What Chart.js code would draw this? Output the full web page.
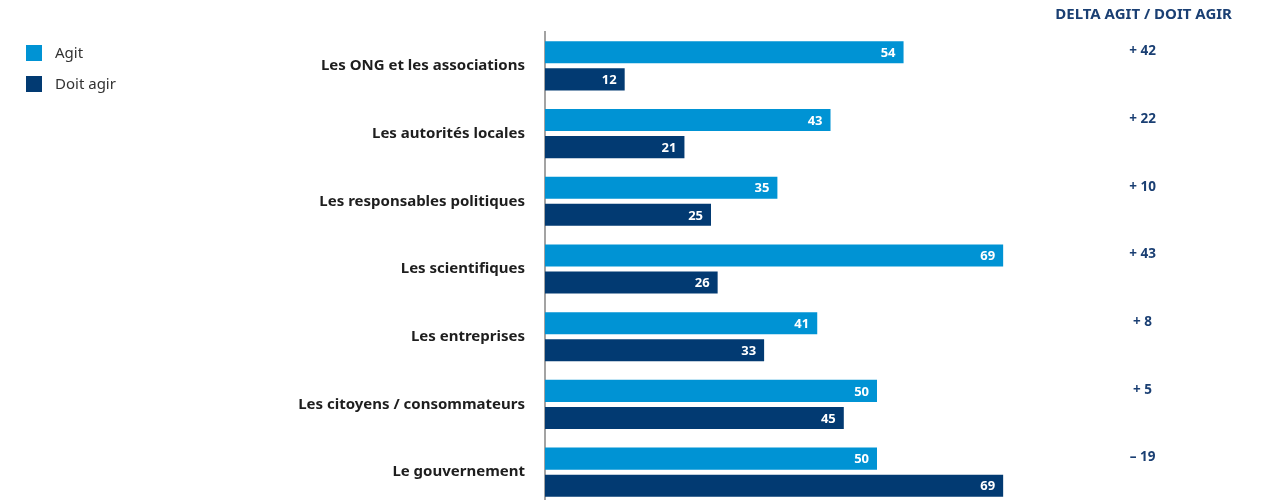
<!DOCTYPE html>
<html>
<head>
<meta charset="utf-8">
<script src="https://cdn.jsdelivr.net/npm/chart.js@4"></script>
<style>
  html, body { margin: 0; padding: 0; background: #fff; overflow: hidden; }
  canvas { display: block; }
</style>
</head>
<body>
<canvas id="deltaChart" width="1278" height="535"></canvas>
<script>
const categories = [
  'Les ONG et les associations',
  'Les autorités locales',
  'Les responsables politiques',
  'Les scientifiques',
  'Les entreprises',
  'Les citoyens / consommateurs',
  'Le gouvernement'
];
const agit = [54, 43, 35, 69, 41, 50, 50];
const doitAgir = [12, 21, 25, 26, 33, 45, 69];
const deltas = ['+ 42', '+ 22', '+ 10', '+ 43', '+ 8', '+ 5', '– 19'];
const seriesNames = ['Agit', 'Doit agir'];

const colAgit = '#0093d4';
const colDoit = '#023a72';
const font = '"Noto Sans", sans-serif';

// white values at the end of each bar
const barLabels = {
  id: 'barLabels',
  afterDatasetsDraw(chart) {
    const ctx = chart.ctx;
    ctx.save();
    ctx.font = 'bold 13px ' + font;
    ctx.fillStyle = '#fff';
    ctx.textAlign = 'right';
    ctx.textBaseline = 'middle';
    chart.data.datasets.forEach((ds, i) => {
      chart.getDatasetMeta(i).data.forEach((bar, j) => {
        ctx.fillText(ds.data[j], bar.x - 8, bar.y + 1);
      });
    });
    ctx.restore();
  }
};

// legend top left + delta column on the right
const extras = {
  id: 'extras',
  afterDraw(chart) {
    const ctx = chart.ctx;
    ctx.save();
    ctx.textBaseline = 'middle';
    ctx.font = '15px ' + font;
    [colAgit, colDoit].forEach((c, i) => {
      ctx.fillStyle = c;
      ctx.fillRect(26, 45 + i * 31, 16, 16);
      ctx.fillStyle = '#333';
      ctx.textAlign = 'left';
      ctx.fillText(seriesNames[i], 55, 54 + i * 31);
    });

    const xs = chart.scales.x;
    const cx = xs.getPixelForValue(90);
    ctx.fillStyle = '#1a3f73';
    ctx.textAlign = 'center';
    ctx.font = 'bold 15px ' + font;
    ctx.fillText('DELTA AGIT / DOIT AGIR', cx + 1, 15);
    ctx.font = 'bold 13.5px ' + font;
    chart.getDatasetMeta(0).data.forEach((bar, j) => {
      ctx.fillText(deltas[j], cx, bar.y - 1);
    });
    ctx.restore();
  }
};

new Chart(document.getElementById('deltaChart'), {
  type: 'bar',
  data: {
    labels: categories,
    datasets: [
      { label: seriesNames[0], data: agit, backgroundColor: colAgit },
      { label: seriesNames[1], data: doitAgir, backgroundColor: colDoit }
    ]
  },
  options: {
    indexAxis: 'y',
    responsive: false,
    animation: false,
    devicePixelRatio: 1,
    categoryPercentage: 0.8,
    barPercentage: 0.815,
    layout: { padding: { top: 32, right: 69, left: 0, bottom: 0 } },
    plugins: { legend: { display: false }, tooltip: { enabled: false } },
    scales: {
      x: { display: false, min: 0, max: 100 },
      y: {
        grid: { display: false, drawTicks: false },
        border: { display: true, color: '#a3a3a3', width: 2 },
        ticks: {
          color: '#1e1e1e',
          padding: 20,
          font: { family: font, size: 15, weight: 'bold' }
        },
        afterFit(scale) { scale.width = 545; }
      }
    }
  },
  plugins: [barLabels, extras]
});
</script>
</body>
</html>
